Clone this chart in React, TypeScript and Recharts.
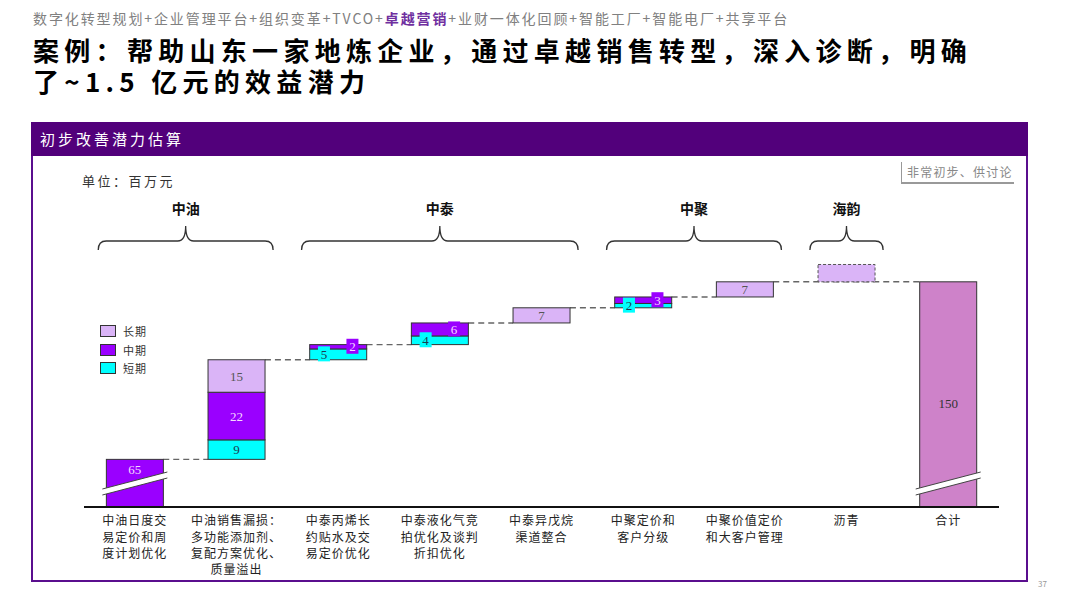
import { Bar, BarChart, LabelList, Legend, XAxis, YAxis } from "recharts";

const CJK = "'Noto Sans CJK SC', sans-serif";
const SERIF = "'Liberation Serif', 'DejaVu Serif', serif";

// 单位：百万元
const categories = [
  "中油日度交\n易定价和周\n度计划优化",
  "中油销售漏损：\n多功能添加剂、\n复配方案优化、\n质量溢出",
  "中泰丙烯长\n约贴水及交\n易定价优化",
  "中泰液化气竞\n拍优化及谈判\n折扣优化",
  "中泰异戊烷\n渠道整合",
  "中聚定价和\n客户分级",
  "中聚价值定价\n和大客户管理",
  "沥青",
  "合计",
];
const shortTerm = [0, 9, 5, 4, 0, 2, 0, 0];
const midTerm = [65, 22, 2, 6, 0, 3, 0, 0];
const longTerm = [0, 15, 0, 0, 7, 0, 7, 0];
const pendingEst = [0, 0, 0, 0, 0, 0, 0, 8]; // 沥青：未量化，虚线示意
const totalLabel = 150;

const groups = [
  { name: "中油", from: 0, to: 1 },
  { name: "中泰", from: 2, to: 4 },
  { name: "中聚", from: 5, to: 6 },
  { name: "海韵", from: 7, to: 7 },
];

// 断轴：第一根和合计柱子底部被压缩掉的数值
const AXIS_BREAK = 43;

const colors = {
  short: "#00FFFF",
  mid: "#9A00FF",
  long: "#DAB4F7",
  pending: "#DAB4F7",
  total: "#CE82C9",
};
const labelColors: Record<string, string> = {
  short: "#1d3b4f",
  mid: "#F6D9FF",
  long: "#555555",
  total: "#333333",
};

let cum = 0;
const rows = categories.map((name, i) => {
  if (i === categories.length - 1) {
    return {
      name, base: 0, short: 0, mid: 0, long: 0, pending: 0,
      total: cum - AXIS_BREAK,
      shortV: null, midV: null, longV: null, totalV: totalLabel,
      broken: true, linkRight: false,
    };
  }
  const s = shortTerm[i];
  const m = midTerm[i];
  const l = longTerm[i];
  const first = cum === 0;
  const row = {
    name,
    base: first ? 0 : cum - AXIS_BREAK,
    short: s,
    mid: first ? m - AXIS_BREAK : m,
    long: l,
    pending: pendingEst[i],
    total: 0,
    shortV: s || null,
    midV: m || null,
    longV: l || null,
    totalV: null,
    broken: first,
    linkRight: i === categories.length - 2,
  };
  cum += s + m + l;
  return row;
});

const legendItems = [
  { name: "长期", color: colors.long },
  { name: "中期", color: colors.mid },
  { name: "短期", color: colors.short },
];

// barCategoryGap 22% -> bar = 56% of band
const gapOf = (w: number) => (w * 0.44) / 0.56;

const BaseShape = (p: any) => {
  const { x, y, width, height, payload } = p;
  if (!(height > 0)) return <g />;
  const gap = gapOf(width);
  return (
    <line
      x1={x - gap}
      x2={payload.linkRight ? x + width + gap : x}
      y1={y}
      y2={y}
      stroke="#666"
      strokeWidth={1.4}
      strokeDasharray="6 4"
    />
  );
};

const segShape = (fill: string, dashed = false) => (p: any) => {
  const { x, y, width, height, payload } = p;
  if (!(height > 0)) return <g />;
  const b = y + height;
  return (
    <g>
      <rect
        x={x}
        y={y}
        width={width}
        height={height}
        fill={fill}
        stroke={dashed ? "#555" : "#333"}
        strokeWidth={1}
        strokeDasharray={dashed ? "3 2" : undefined}
      />
      {payload.broken && (
        <g>
          <polygon
            points={`${x - 4},${b - 12} ${x + width + 4},${b - 29} ${x + width + 4},${b - 35} ${x - 4},${b - 18}`}
            fill="#fff"
          />
          <line x1={x - 4} y1={b - 12} x2={x + width + 4} y2={b - 29} stroke="#444" />
          <line x1={x - 4} y1={b - 18} x2={x + width + 4} y2={b - 35} stroke="#444" />
        </g>
      )}
    </g>
  );
};

const labelFor = (kind: "short" | "mid" | "long" | "total") => (p: any) => {
  const v = p.viewBox && p.viewBox.width != null ? p.viewBox : p;
  const { x, y, width: w, height: h } = v;
  const { value, index } = p;
  if (value == null || !(h > 0)) return null;
  const row = rows[index];
  const small = h < 14;
  let cx = x + w / 2;
  let cy = y + h / 2;
  if (small) cx = x + w * (kind === "short" ? 0.25 : 0.75);
  if (kind === "mid" && row && row.broken) cy = y + 10;
  if (kind === "total") cy = y + h * 0.54;
  return (
    <g>
      {small && <rect x={cx - 6} y={cy - 8} width={12} height={15} fill={(colors as any)[kind]} />}
      <text
        x={cx}
        y={cy}
        dy="0.35em"
        textAnchor="middle"
        fontFamily={SERIF}
        fontSize={13}
        fill={labelColors[kind]}
      >
        {value}
      </text>
    </g>
  );
};

const CategoryTick = (p: any) => {
  const { x, y, payload } = p;
  const lines = String(payload.value).split("\n");
  return (
    <g>
      {lines.map((t, i) => (
        <text
          key={i}
          x={x}
          y={y + 6 + i * 16.3}
          dy="0.35em"
          textAnchor="middle"
          fontFamily={CJK}
          fontSize={12}
          letterSpacing={1}
          fill="#222"
        >
          {t}
        </text>
      ))}
    </g>
  );
};

const GroupTick = (p: any) => {
  const { x, y, payload, index } = p;
  const g = groups.find((gr) => gr.from === index);
  if (!g) return <g />;
  const step = payload && payload.offset ? payload.offset * 2 : 915 / rows.length;
  const L = x - 0.36 * step;
  const R = x + (g.to - g.from) * step + 0.36 * step;
  const cx = (L + R) / 2;
  const arm = y + 13;
  const mid = y + 4;
  const tip = y - 11;
  const r = 8;
  const d = `M${L},${arm} Q${L},${mid} ${L + r},${mid} L${cx - r},${mid} Q${cx},${mid} ${cx},${tip} Q${cx},${mid} ${cx + r},${mid} L${R - r},${mid} Q${R},${mid} ${R},${arm}`;
  return (
    <g>
      <path d={d} fill="none" stroke="#333" strokeWidth={1.3} />
      <text x={cx} y={y - 28} dy="0.35em" textAnchor="middle" fontFamily={CJK} fontWeight={700} fontSize={14} fill="#111">
        {g.name}
      </text>
    </g>
  );
};

export default function App() {
  return (
    <div
      style={{
        position: "absolute",
        left: 0,
        top: 0,
        width: 1080,
        height: 608,
        background: "#fff",
        overflow: "hidden",
        fontFamily: CJK,
      }}
    >
      <div
        style={{
          position: "absolute",
          left: 33,
          top: 8,
          fontSize: 14,
          letterSpacing: 1.9,
          color: "#808080",
          whiteSpace: "nowrap",
          lineHeight: "20px",
        }}
      >
        数字化转型规划+企业管理平台+组织变革+TVCO+
        <span style={{ color: "#7030A0", fontWeight: 700 }}>卓越营销</span>
        +业财一体化回顾+智能工厂+智能电厂+共享平台
      </div>
      <div
        style={{
          position: "absolute",
          left: 33,
          top: 34,
          fontSize: 26,
          fontWeight: 700,
          letterSpacing: 5.3,
          lineHeight: "31px",
          color: "#000",
          whiteSpace: "nowrap",
        }}
      >
        <div>案例：帮助山东一家地炼企业，通过卓越销售转型，深入诊断，明确</div>
        <div>了~1.5 亿元的效益潜力</div>
      </div>

      <div
        style={{
          position: "absolute",
          left: 31,
          top: 122,
          width: 997,
          height: 460,
          border: "2px solid #5A0E8E",
          boxSizing: "border-box",
        }}
      />
      <div
        style={{
          position: "absolute",
          left: 31,
          top: 122,
          width: 997,
          height: 34,
          background: "#52007B",
          color: "#fff",
          fontSize: 15,
          letterSpacing: 3,
          lineHeight: "34px",
          paddingLeft: 9,
          boxSizing: "border-box",
        }}
      >
        初步改善潜力估算
      </div>
      <div
        style={{
          position: "absolute",
          left: 82,
          top: 171,
          fontSize: 13,
          letterSpacing: 2.5,
          color: "#333",
          lineHeight: "20px",
        }}
      >
        单位：百万元
      </div>
      <div
        style={{
          position: "absolute",
          left: 901,
          top: 162,
          width: 113,
          height: 22,
          borderLeft: "1px solid #999",
          borderBottom: "2px solid #999",
          boxSizing: "border-box",
          fontSize: 12,
          letterSpacing: 1.2,
          color: "#888",
          lineHeight: "20px",
          paddingLeft: 5,
          whiteSpace: "nowrap",
        }}
      >
        非常初步、供讨论
      </div>
      <div style={{ position: "absolute", left: 1038, top: 578, fontSize: 8, color: "#999" }}>37</div>

      <div style={{ position: "absolute", left: 0, top: 190 }}>
        <BarChart
          width={1080}
          height={405}
          data={rows}
          margin={{ top: 0, right: 81, bottom: 0, left: 84 }}
          barCategoryGap="22%"
        >
          <XAxis
            xAxisId="top"
            orientation="top"
            dataKey="name"
            height={55}
            axisLine={false}
            tickLine={false}
            interval={0}
            tick={<GroupTick />}
          />
          <XAxis
            xAxisId="bottom"
            dataKey="name"
            height={88}
            axisLine={{ stroke: "#111", strokeWidth: 2 }}
            tickLine={false}
            interval={0}
            tick={<CategoryTick />}
          />
          <YAxis hide width={0} domain={[0, 121]} />
          <Legend
            layout="vertical"
            align="center"
            verticalAlign="middle"
            wrapperStyle={{ left: 100, top: 132, width: 80 }}
            content={() => (
              <div style={{ fontFamily: CJK }}>
                {legendItems.map((it) => (
                  <div key={it.name} style={{ display: "flex", alignItems: "center", height: 18.5 }}>
                    <span
                      style={{
                        display: "inline-block",
                        width: 16,
                        height: 12,
                        background: it.color,
                        border: "1px solid #333",
                        boxSizing: "border-box",
                      }}
                    />
                    <span style={{ marginLeft: 7, fontSize: 11, letterSpacing: 1, color: "#333" }}>{it.name}</span>
                  </div>
                ))}
              </div>
            )}
          />
          <Bar xAxisId="bottom" dataKey="base" stackId="w" fill="none" shape={BaseShape} isAnimationActive={false} />
          <Bar xAxisId="bottom" dataKey="short" stackId="w" shape={segShape(colors.short)} isAnimationActive={false}>
            <LabelList dataKey="shortV" content={labelFor("short")} />
          </Bar>
          <Bar xAxisId="bottom" dataKey="mid" stackId="w" shape={segShape(colors.mid)} isAnimationActive={false}>
            <LabelList dataKey="midV" content={labelFor("mid")} />
          </Bar>
          <Bar xAxisId="bottom" dataKey="long" stackId="w" shape={segShape(colors.long)} isAnimationActive={false}>
            <LabelList dataKey="longV" content={labelFor("long")} />
          </Bar>
          <Bar
            xAxisId="bottom"
            dataKey="pending"
            stackId="w"
            shape={segShape(colors.pending, true)}
            isAnimationActive={false}
          />
          <Bar xAxisId="bottom" dataKey="total" stackId="w" shape={segShape(colors.total)} isAnimationActive={false}>
            <LabelList dataKey="totalV" content={labelFor("total")} />
          </Bar>
        </BarChart>
      </div>
    </div>
  );
}
